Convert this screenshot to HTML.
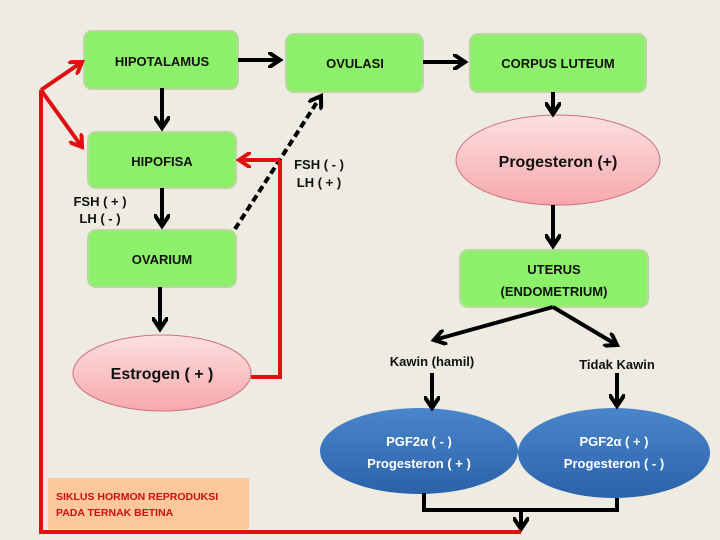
<!DOCTYPE html>
<html><head><meta charset="utf-8"><style>
body{margin:0;background:#edebe2;}
svg{display:block;font-family:"Liberation Sans",sans-serif;}
</style></head><body>
<svg width="720" height="540" viewBox="0 0 720 540" xmlns="http://www.w3.org/2000/svg">
<defs>
<marker id="ab" markerWidth="4" markerHeight="4" refX="3" refY="2" orient="auto" markerUnits="strokeWidth"><path d="M0,0 L3,2 L0,4" fill="none" stroke="#000" stroke-width="1"/></marker>
<marker id="ar" markerWidth="4" markerHeight="4" refX="3" refY="2" orient="auto" markerUnits="strokeWidth"><path d="M0,0 L3,2 L0,4" fill="none" stroke="#e01010" stroke-width="1"/></marker>
<linearGradient id="pk" x1="0" y1="0" x2="0" y2="1"><stop offset="0" stop-color="#fbe0e0"/><stop offset="1" stop-color="#f7a8ac"/></linearGradient>
<linearGradient id="bl" x1="0" y1="0" x2="0" y2="1"><stop offset="0" stop-color="#4a86cc"/><stop offset="1" stop-color="#2b62aa"/></linearGradient>
</defs>
<rect width="720" height="540" fill="#edebe2"/>
<g fill="#8df06a" stroke="#b8d8a0" stroke-width="2">
<rect x="84" y="31" width="154" height="58" rx="8"/>
<rect x="286" y="34" width="137" height="58" rx="8"/>
<rect x="470" y="34" width="176" height="58" rx="8"/>
<rect x="88" y="132" width="148" height="56" rx="8"/>
<rect x="88" y="230" width="148" height="57" rx="8"/>
<rect x="460" y="250" width="188" height="57" rx="8"/>
</g>
<ellipse cx="558" cy="160" rx="102" ry="45" fill="url(#pk)" stroke="#d07080"/>
<ellipse cx="162" cy="373" rx="89" ry="38" fill="url(#pk)" stroke="#d07080"/>
<ellipse cx="419" cy="451" rx="99" ry="43" fill="url(#bl)"/>
<ellipse cx="614" cy="453" rx="96" ry="45" fill="url(#bl)"/>
<rect x="48" y="478" width="201" height="51" fill="#fcc89a"/>
<g stroke="#000" stroke-width="4" fill="none" marker-end="url(#ab)">
<line x1="238" y1="60" x2="280" y2="60"/>
<line x1="423" y1="62" x2="465" y2="62"/>
<line x1="553" y1="92" x2="553" y2="114"/>
<line x1="553" y1="205" x2="553" y2="246"/>
<line x1="162" y1="88" x2="162" y2="128"/>
<line x1="162" y1="188" x2="162" y2="226"/>
<line x1="160" y1="287" x2="160" y2="329"/>
<polyline points="553,307 434,340"/>
<polyline points="553,307 617,345"/>
<line x1="432" y1="373" x2="432" y2="408"/>
<line x1="617" y1="373" x2="617" y2="406"/>
<line x1="521" y1="510" x2="521" y2="529"/>
<line x1="235" y1="229" x2="321" y2="96" stroke-dasharray="7,4"/>
</g>
<polyline points="424,493 424,510 617,510 617,498" stroke="#000" stroke-width="4" fill="none"/>
<g stroke="#e01010" stroke-width="4" fill="none">
<polyline points="521,532 41,532 41,90"/>
<line x1="41" y1="90" x2="82" y2="62" marker-end="url(#ar)"/>
<line x1="41" y1="90" x2="82" y2="147" marker-end="url(#ar)"/>
<polyline points="251,377 280,377 280,160"/>
<line x1="280" y1="160" x2="239" y2="160" marker-end="url(#ar)"/>
</g>
<g font-size="13" font-weight="bold" text-anchor="middle" fill="#111">
<text x="162" y="66">HIPOTALAMUS</text>
<text x="355" y="68">OVULASI</text>
<text x="558" y="68">CORPUS LUTEUM</text>
<text x="162" y="166">HIPOFISA</text>
<text x="162" y="264">OVARIUM</text>
<text x="554" y="274">UTERUS</text>
<text x="554" y="296">(ENDOMETRIUM)</text>
<text x="100" y="206">FSH ( + )</text>
<text x="100" y="223">LH ( - )</text>
<text x="319" y="169">FSH ( - )</text>
<text x="319" y="187">LH ( + )</text>
<text x="558" y="167" font-size="16">Progesteron (+)</text>
<text x="162" y="379" font-size="16">Estrogen ( + )</text>
<text x="432" y="366">Kawin (hamil)</text>
<text x="617" y="369">Tidak Kawin</text>
</g>
<g font-size="13" font-weight="bold" text-anchor="middle" fill="#fff">
<text x="419" y="446">PGF2α ( - )</text>
<text x="419" y="468">Progesteron ( + )</text>
<text x="614" y="446">PGF2α ( + )</text>
<text x="614" y="468">Progesteron ( - )</text>
</g>
<g font-size="10.5" font-weight="bold" fill="#d01010">
<text x="56" y="500">SIKLUS HORMON REPRODUKSI</text>
<text x="56" y="516">PADA TERNAK BETINA</text>
</g>
</svg>
</body></html>
